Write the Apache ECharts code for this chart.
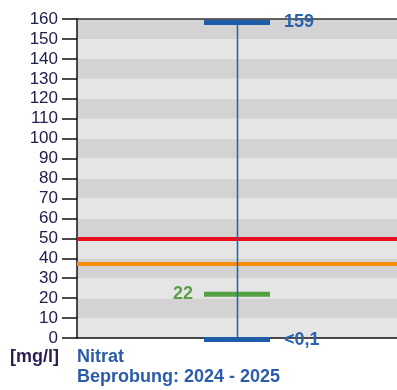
<!DOCTYPE html>
<html>
<head>
<meta charset="utf-8">
<script src="https://cdn.jsdelivr.net/npm/echarts@6/dist/echarts.min.js"></script>
<style>
html,body{margin:0;padding:0;background:#fff;}
#chart{width:397px;height:390px;}
</style>
</head>
<body>
<div id="chart"></div>
<script>
// ---- data ----
const categories = ['Nitrat'];
const minValues = [0];
const maxValues = [159];
const meanValues = [22];
const minLabels = ['<0,1'];
const maxLabels = ['159'];
const meanLabels = ['22'];
const limitValue = 50;   // red line
const warnValue = 37;    // orange line
const yTicks = [0, 160, 10]; // min, max, interval
const unitLabel = '[mg/l]';
const paramLabel = 'Nitrat';
const periodLabel = 'Beprobung: 2024 - 2025';

const FONT = '"Liberation Sans", Arial, sans-serif';
const BLUE = '#1c5ca8';
const GREEN = '#55a043';

const chart = echarts.init(document.getElementById('chart'), null, {renderer: 'canvas'});

const rangeData = categories.map((c, i) => [i, minValues[i], maxValues[i], meanValues[i]]);

const option = {
  animation: false,
  backgroundColor: '#fff',
  grid: {left: 77, right: 0, top: 19, bottom: 52, containLabel: false},
  xAxis: [
    {
      type: 'category', data: categories, position: 'bottom',
      axisLine: {show: true, lineStyle: {color: '#111', width: 1.5}},
      axisTick: {show: false}, axisLabel: {show: false}, splitLine: {show: false}
    },
    {
      type: 'category', data: categories, position: 'top',
      axisLine: {show: true, lineStyle: {color: '#333', width: 1.5}},
      axisTick: {show: false}, axisLabel: {show: false}, splitLine: {show: false}
    }
  ],
  yAxis: {
    type: 'value', min: yTicks[0], max: yTicks[1], interval: yTicks[2],
    axisLine: {show: true, lineStyle: {color: '#111', width: 1.5}},
    axisTick: {show: true, inside: false, length: 15, lineStyle: {color: '#111', width: 1.5}},
    axisLabel: {show: true, margin: 19, fontSize: 17, fontFamily: FONT, color: '#20204c'},
    splitLine: {show: false},
    splitArea: {show: true, areaStyle: {color: ['#e5e5e5', '#d3d3d3']}}
  },
  series: [
    {
      type: 'line', data: [], xAxisIndex: 0,
      markLine: {
        silent: true, symbol: ['none', 'none'], label: {show: false},
        data: [
          {yAxis: limitValue, lineStyle: {color: '#e8101e', width: 4, type: 'solid'}},
          {yAxis: warnValue, lineStyle: {color: '#fb8c0a', width: 4, type: 'solid'}}
        ]
      }
    },
    {
      type: 'custom', xAxisIndex: 0, z: 10,
      data: rangeData,
      renderItem: function (params, api) {
        const idx = api.value(0);
        const top = api.coord([idx, api.value(2)]);
        const bot = api.coord([idx, api.value(1)]);
        const mean = api.coord([idx, api.value(3)]);
        const half = 33;
        const i = params.dataIndex;
        return {
          type: 'group',
          children: [
            {type: 'rect', shape: {x: mean[0] - half, y: mean[1] - 2.5, width: half * 2, height: 5}, style: {fill: GREEN}},
            {type: 'rect', shape: {x: top[0] - half, y: top[1] - 1, width: half * 2, height: 5}, style: {fill: BLUE}},
            {type: 'rect', shape: {x: bot[0] - half, y: bot[1] - 1, width: half * 2, height: 5}, style: {fill: BLUE}},
            {type: 'line', shape: {x1: top[0] + 0.5, y1: top[1], x2: bot[0] + 0.5, y2: bot[1]}, style: {stroke: '#2262ab', lineWidth: 1.5}},
            {type: 'text', x: top[0] + half + 14, y: top[1] + 1.5, style: {text: maxLabels[i], fill: '#2a62ae', font: 'bold 18px ' + FONT, textAlign: 'left', textVerticalAlign: 'middle'}},
            {type: 'text', x: bot[0] + half + 14, y: bot[1] + 2, style: {text: minLabels[i], fill: '#2a62ae', font: 'bold 18px ' + FONT, textAlign: 'left', textVerticalAlign: 'middle'}},
            {type: 'text', x: mean[0] - half - 11, y: mean[1], style: {text: meanLabels[i], fill: '#5a9e48', font: 'bold 18px ' + FONT, textAlign: 'right', textVerticalAlign: 'middle'}}
          ]
        };
      }
    }
  ],
  graphic: [
    {type: 'text', left: 10, top: 348, style: {text: unitLabel, fill: '#2d1c52', font: 'bold 18px ' + FONT}},
    {type: 'text', left: 77, top: 348, style: {text: paramLabel, fill: '#2a5caa', font: 'bold 18px ' + FONT}},
    {type: 'text', left: 77, top: 368, style: {text: periodLabel, fill: '#2a5caa', font: 'bold 18px ' + FONT}}
  ]
};
chart.setOption(option);
</script>
</body>
</html>
